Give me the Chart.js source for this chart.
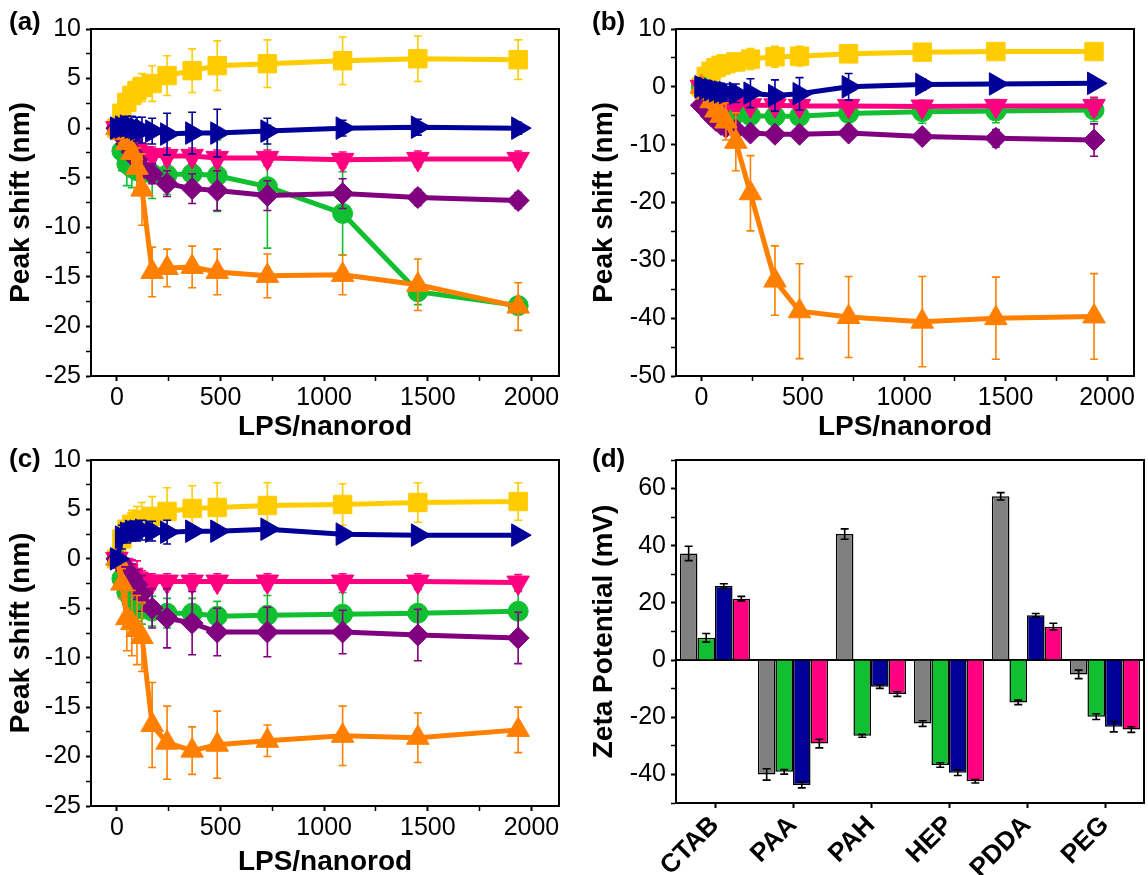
<!DOCTYPE html>
<html>
<head>
<meta charset="utf-8">
<script src="https://cdn.jsdelivr.net/npm/chart.js@4.4.0/dist/chart.umd.min.js"></script>
<style>
  body { margin: 0; background: #fff; }
  #wrap { position: relative; width: 1148px; height: 875px; }
  canvas { position: absolute; }
</style>
</head>
<body>
<div id="wrap">
  <canvas id="chartA" width="574" height="440" style="left:0;top:0"></canvas>
  <canvas id="chartB" width="574" height="440" style="left:574px;top:0"></canvas>
  <canvas id="chartC" width="574" height="435" style="left:0;top:440px"></canvas>
  <canvas id="chartD" width="574" height="435" style="left:574px;top:440px"></canvas>
</div>
<script>
// LPS per nanorod (x values for panels a-c)
const lpsRatio = [0, 24, 48, 72, 97, 121, 170, 242, 363, 484, 726, 1089, 1452, 1936];
const lpsTicks = [0, 500, 1000, 1500, 2000];
const shiftTicksAC = [-25, -20, -15, -10, -5, 0, 5, 10];
const shiftTicksB = [-50, -40, -30, -20, -10, 0, 10];

// panel (a)
const aGold = [0, 1.5, 2.6, 3.3, 3.8, 4.1, 4.5, 5.3, 5.8, 6.3, 6.5, 6.8, 7.0, 6.9];
const aGoldErr = [0.3, 0.8, 1.0, 1.2, 1.3, 1.4, 1.8, 2.0, 2.2, 2.5, 2.4, 2.4, 2.3, 2.0];
const aNavy = [0, 0.1, 0.2, 0.1, -0.1, -0.2, -0.3, -0.6, -0.5, -0.5, -0.3, 0, 0.1, 0];
const aNavyErr = [0.3, 0.8, 1.0, 1.1, 1.2, 1.3, 1.3, 2.1, 2.1, 2.4, 1.3, 0.8, 0.8, 0.6];
const aPink = [0, -0.5, -1.2, -1.8, -2.2, -2.5, -2.7, -2.8, -2.8, -3.0, -3.0, -3.2, -3.1, -3.1];
const aPinkErr = [0.3, 0.6, 0.8, 0.8, 0.8, 0.8, 0.8, 0.8, 0.8, 0.8, 0.8, 0.8, 0.8, 0.8];
const aGreen = [0, -2.3, -3.6, -4.0, -4.3, -4.5, -4.6, -4.7, -4.6, -4.8, -5.9, -8.6, -16.5, -17.9];
const aGreenErr = [0.3, 2.0, 2.2, 2.0, 2.0, 2.3, 2.5, 2.0, 1.5, 3.6, 6.2, 4.2, 1.3, 0.4];
const aPurple = [0, -0.8, -1.6, -2.4, -3.2, -4.0, -4.6, -5.6, -6.1, -6.3, -6.8, -6.6, -7.0, -7.3];
const aPurpleErr = [0.3, 0.8, 1.0, 1.0, 1.0, 1.0, 1.0, 1.3, 1.5, 2.0, 1.5, 1.5, 0.8, 0.8];
const aOrange = [0, -0.5, -1.5, -2.5, -4.0, -6.2, -14.5, -14.1, -14.0, -14.5, -14.9, -14.8, -15.8, -18.0];
const aOrangeErr = [0.3, 1.0, 1.5, 2.0, 2.0, 3.6, 2.5, 1.9, 2.1, 2.3, 2.2, 2.0, 2.6, 2.4];

// panel (b)
const bGold = [0, 1.8, 2.7, 3.3, 3.7, 4.0, 4.3, 4.8, 5.2, 5.3, 5.7, 6.0, 6.1, 6.1];
const bGoldErr = [0.3, 0.8, 1.0, 1.2, 1.3, 1.4, 1.5, 1.8, 1.8, 1.7, 1.5, 1.0, 0.8, 0.5];
const bNavy = [0, -0.3, -0.5, -0.7, -0.9, -1.0, -1.1, -1.1, -1.5, -1.2, 0.0, 0.4, 0.5, 0.6];
const bNavyErr = [0.3, 1.0, 1.2, 1.5, 1.5, 1.5, 1.6, 2.5, 2.7, 2.8, 2.3, 1.0, 0.8, 0.5];
const bPink = [0, -1.0, -1.8, -2.3, -2.6, -2.8, -3.0, -3.2, -3.2, -3.3, -3.3, -3.4, -3.3, -3.3];
const bPinkErr = [0.3, 0.8, 0.8, 0.8, 0.8, 0.8, 0.8, 0.8, 0.8, 0.8, 0.8, 0.8, 0.8, 1.5];
const bGreen = [0, -1.5, -2.5, -3.2, -3.8, -4.3, -4.7, -5.0, -5.1, -5.1, -4.6, -4.3, -4.2, -4.0];
const bGreenErr = [0.3, 1.0, 1.2, 1.5, 1.8, 2.0, 2.0, 2.0, 2.0, 2.0, 2.0, 2.0, 2.0, 2.0];
const bPurple = [-3.2, -4.0, -5.0, -5.8, -6.5, -7.0, -7.4, -8.0, -8.2, -8.2, -8.0, -8.6, -8.9, -9.2];
const bPurpleErr = [0.5, 0.8, 0.8, 0.8, 0.8, 0.8, 0.8, 0.8, 0.8, 0.8, 0.8, 1.0, 1.5, 2.8];
const bOrange = [0, -1.0, -2.5, -4.1, -5.0, -6.0, -9.5, -18.4, -33.5, -38.8, -39.8, -40.6, -40.0, -39.7];
const bOrangeErr = [0.5, 1.0, 1.2, 1.3, 2.0, 3.2, 5.0, 6.5, 6.0, 8.2, 7.0, 7.8, 7.1, 7.4];

// panel (c)
const cGold = [0, 2.0, 3.0, 3.5, 3.8, 4.0, 4.3, 4.8, 5.1, 5.2, 5.4, 5.5, 5.7, 5.8];
const cGoldErr = [0.3, 1.0, 1.2, 1.4, 1.5, 1.7, 2.0, 2.4, 2.3, 2.5, 2.3, 2.1, 2.0, 1.9];
const cNavy = [0, 2.2, 2.6, 2.8, 2.8, 2.9, 2.8, 2.7, 2.8, 2.8, 3.0, 2.5, 2.4, 2.4];
const cNavyErr = [0.5, 1.2, 1.0, 1.0, 1.0, 1.0, 1.0, 1.2, 0.3, 0.3, 0.3, 0.3, 0.3, 0.3];
const cPink = [0, -0.6, -1.2, -1.6, -2.0, -2.2, -2.3, -2.3, -2.3, -2.3, -2.3, -2.3, -2.3, -2.4];
const cPinkErr = [0.3, 0.8, 1.0, 1.5, 1.8, 1.0, 0.8, 0.8, 0.8, 0.8, 0.8, 0.8, 0.8, 0.8];
const cGreen = [0, -2.0, -3.4, -4.3, -4.8, -5.1, -5.3, -5.5, -5.5, -5.8, -5.7, -5.6, -5.5, -5.3];
const cGreenErr = [0.3, 1.0, 1.5, 1.5, 1.5, 1.5, 1.5, 1.5, 1.5, 1.5, 2.0, 2.2, 2.5, 2.0];
const cPurple = [0, -0.5, -1.2, -1.8, -2.6, -3.5, -5.0, -6.0, -6.5, -7.4, -7.4, -7.4, -7.7, -8.0];
const cPurpleErr = [0.3, 0.8, 1.0, 1.3, 1.5, 1.8, 2.0, 3.0, 3.2, 2.4, 2.5, 2.2, 2.6, 2.6];
const cOrange = [0, -2.5, -6.0, -6.5, -7.2, -7.9, -16.8, -18.6, -19.4, -18.8, -18.4, -17.9, -18.1, -17.3];
const cOrangeErr = [0.3, 1.5, 3.3, 3.3, 3.5, 3.5, 4.3, 3.7, 2.4, 3.4, 1.6, 3.0, 2.5, 2.3];

// panel (d) zeta potential
const coatings = ['CTAB', 'PAA', 'PAH', 'HEP', 'PDDA', 'PEG'];
const zetaTicks = [-40, -20, 0, 20, 40, 60];
const zetaGray = [37.3, -40, 44.1, -22.2, 57.3, -5];
const zetaGrayErr = [2.5, 2, 1.8, 1, 1.3, 1.5];
const zetaGreen = [7.8, -39.1, -26.5, -36.7, -14.8, -19.8];
const zetaGreenErr = [1.5, 0.8, 0.5, 0.8, 0.8, 1];
const zetaBlue = [25.9, -43.7, -9.3, -39.4, 15.7, -23.3];
const zetaBlueErr = [0.8, 1, 0.6, 1, 0.6, 1.8];
const zetaPink = [21.5, -29.2, -11.9, -42.4, 11.7, -24.3];
const zetaPinkErr = [0.8, 1.5, 0.8, 0.6, 1.2, 1];

const FONT = "'Liberation Sans', Arial, sans-serif";
const GOLD = '#FFCC00', NAVY = '#000099', PINK = '#FF0080',
      GREEN = '#11C030', PURPLE = '#800080', ORANGE = '#FF8000', GRAY = '#808080';

// majors plus the half-way minor ticks, kept inside [min, max]
function withMinor(major, min, max) {
  const step = major[1] - major[0];
  const out = [];
  major.forEach(v => { out.push(v); out.push(v + step / 2); });
  out.push(major[0] - step / 2);
  return out.filter(v => v >= min - 1e-6 && v <= max + 1e-6).sort((p, q) => p - q);
}

// error bars drawn right after each dataset so they follow its stacking order
const errorBars = {
  id: 'errorBars',
  afterDatasetDraw(chart, args) {
    const ds = chart.data.datasets[args.index];
    if (!ds.err) return;
    const y = chart.scales[args.meta.yAxisID];
    const ctx = chart.ctx;
    ctx.save();
    ctx.strokeStyle = ds.errColor || ds.borderColor;
    ctx.lineWidth = 1.6;
    args.meta.data.forEach((el, i) => {
      const d = ds.data[i];
      const v = typeof d === 'object' ? d.y : d;
      const top = y.getPixelForValue(v + ds.err[i]);
      const bot = y.getPixelForValue(v - ds.err[i]);
      ctx.beginPath();
      ctx.moveTo(el.x, top); ctx.lineTo(el.x, bot);
      ctx.moveTo(el.x - 4, top); ctx.lineTo(el.x + 4, top);
      ctx.moveTo(el.x - 4, bot); ctx.lineTo(el.x + 4, bot);
      ctx.stroke();
    });
    ctx.restore();
  }
};

// box around the plot, optional zero line, panel letter
const frame = {
  id: 'frame',
  beforeDatasetsDraw(chart, args, opts) {
    if (!opts.zeroLine) return;
    const a = chart.chartArea, ctx = chart.ctx;
    const y0 = chart.scales.y.getPixelForValue(0);
    ctx.save();
    ctx.strokeStyle = '#000'; ctx.lineWidth = 2;
    ctx.beginPath(); ctx.moveTo(a.left, y0); ctx.lineTo(a.right, y0); ctx.stroke();
    ctx.restore();
  },
  afterDraw(chart, args, opts) {
    const a = chart.chartArea, ctx = chart.ctx;
    ctx.save();
    ctx.strokeStyle = '#000'; ctx.lineWidth = 2;
    ctx.strokeRect(a.left, a.top, a.right - a.left, a.bottom - a.top);
    ctx.fillStyle = '#000';
    ctx.font = 'bold 26px ' + FONT;
    ctx.textBaseline = 'middle';
    ctx.fillText(opts.label, opts.labelX, opts.labelY);
    ctx.restore();
  }
};

function lineSeries(label, values, errs, color, style, rotation, radius) {
  return {
    label: label,
    data: lpsRatio.map((x, i) => ({ x: x, y: values[i] })),
    err: errs,
    borderColor: color,
    backgroundColor: color,
    borderWidth: 5,
    pointStyle: style,
    pointRotation: rotation,
    pointRadius: radius,
    pointBorderWidth: 1,
    tension: 0
  };
}

function axisStyle(major) {
  return {
    grid: {
      drawOnChartArea: false, drawTicks: true, tickLength: 5, tickColor: '#000',
      tickWidth: c => (major.includes(c.tick && c.tick.value) ? 2 : 1.5)
    },
    border: { display: true, color: '#000', width: 2 }
  };
}

function peakChart(id, letter, labelX, labelY, yMajor, yMin, yMax, yWidth, yTitlePad, xHeight, pad, sets) {
  const xMin = -125, xMax = 2133;
  new Chart(document.getElementById(id), {
    type: 'line',
    data: { datasets: sets },
    options: {
      responsive: false, animation: false, devicePixelRatio: 1,
      layout: { padding: pad },
      plugins: {
        legend: { display: false }, tooltip: { enabled: false },
        frame: { label: letter, labelX: labelX, labelY: labelY }
      },
      scales: {
        x: Object.assign(axisStyle(lpsTicks), {
          type: 'linear', min: xMin, max: xMax,
          afterBuildTicks: s => { s.ticks = withMinor(lpsTicks, xMin, xMax).map(v => ({ value: v })); },
          afterFit: s => { s.height = xHeight; },
          ticks: {
            autoSkip: false, maxRotation: 0, padding: 2, color: '#000',
            font: { family: FONT, size: 25 },
            callback: v => (lpsTicks.includes(v) ? String(v) : '')
          },
          title: {
            display: true, text: 'LPS/nanorod', color: '#000',
            font: { family: FONT, size: 28, weight: 'bold', lineHeight: 1 },
            padding: { top: 0, bottom: -1 }
          }
        }),
        y: Object.assign(axisStyle(yMajor), {
          type: 'linear', min: yMin, max: yMax,
          afterBuildTicks: s => { s.ticks = withMinor(yMajor, yMin, yMax).map(v => ({ value: v })); },
          afterFit: s => { s.width = yWidth; },
          ticks: {
            autoSkip: false, padding: 5, color: '#000',
            font: { family: FONT, size: 25 },
            callback: v => (yMajor.includes(v) ? String(v) : '')
          },
          title: {
            display: true, text: 'Peak shift (nm)', color: '#000',
            font: { family: FONT, size: 28, weight: 'bold', lineHeight: 1 },
            padding: { top: yTitlePad, bottom: 0 }
          }
        })
      }
    },
    plugins: [errorBars, frame]
  });
}

// first dataset is drawn on top
function seriesSet(gold, goldErr, navy, navyErr, pink, pinkErr, green, greenErr, purple, purpleErr, orange, orangeErr) {
  return [
    lineSeries('navy', navy, navyErr, NAVY, 'triangle', 90, 13),
    lineSeries('orange', orange, orangeErr, ORANGE, 'triangle', 0, 13),
    lineSeries('purple', purple, purpleErr, PURPLE, 'rectRot', 0, 11),
    lineSeries('pink', pink, pinkErr, PINK, 'triangle', 180, 13),
    lineSeries('green', green, greenErr, GREEN, 'circle', 0, 10),
    lineSeries('gold', gold, goldErr, GOLD, 'rect', 0, 13)
  ];
}

peakChart('chartA', '(a)', 9, 23, shiftTicksAC, -25, 10, 91, 7, 64,
  { top: 29, right: 15, left: 0, bottom: 0 },
  seriesSet(aGold, aGoldErr, aNavy, aNavyErr, aPink, aPinkErr, aGreen, aGreenErr, aPurple, aPurpleErr, aOrange, aOrangeErr));

peakChart('chartB', '(b)', 18, 23, shiftTicksB, -50, 10, 102, 16, 64,
  { top: 29, right: 4, left: 0, bottom: 0 },
  seriesSet(bGold, bGoldErr, bNavy, bNavyErr, bPink, bPinkErr, bGreen, bGreenErr, bPurple, bPurpleErr, bOrange, bOrangeErr));

peakChart('chartC', '(c)', 9, 20, shiftTicksAC, -25, 10, 91, 7, 69,
  { top: 20, right: 15, left: 0, bottom: 0 },
  seriesSet(cGold, cGoldErr, cNavy, cNavyErr, cPink, cPinkErr, cGreen, cGreenErr, cPurple, cPurpleErr, cOrange, cOrangeErr));

// panel (d): zeta potential bars
function barSeries(label, values, errs, color) {
  return {
    label: label, data: values, err: errs, errColor: '#000',
    backgroundColor: color, borderColor: '#000', borderWidth: 1.5,
    barPercentage: 1, categoryPercentage: 0.9
  };
}

new Chart(document.getElementById('chartD'), {
  type: 'bar',
  data: {
    labels: coatings,
    datasets: [
      barSeries('gray', zetaGray, zetaGrayErr, GRAY),
      barSeries('green', zetaGreen, zetaGreenErr, GREEN),
      barSeries('blue', zetaBlue, zetaBlueErr, NAVY),
      barSeries('pink', zetaPink, zetaPinkErr, PINK)
    ]
  },
  options: {
    responsive: false, animation: false, devicePixelRatio: 1,
    layout: { padding: { top: 20, right: 4, left: 0, bottom: 0 } },
    plugins: {
      legend: { display: false }, tooltip: { enabled: false },
      frame: { label: '(d)', labelX: 18, labelY: 20, zeroLine: true }
    },
    scales: {
      x: {
        type: 'category', offset: true,
        grid: { offset: false, drawOnChartArea: false, drawTicks: true, tickLength: 5, tickColor: '#000', tickWidth: 2 },
        border: { display: true, color: '#000', width: 2 },
        afterFit: s => { s.height = 72; },
        ticks: {
          minRotation: 45, maxRotation: 45, padding: 2, color: '#000',
          font: { family: FONT, size: 26, weight: 'bold' }
        }
      },
      y: Object.assign(axisStyle(zetaTicks), {
        type: 'linear', min: -50, max: 70,
        afterBuildTicks: s => { s.ticks = withMinor(zetaTicks, -50, 70).map(v => ({ value: v })); },
        afterFit: s => { s.width = 102; },
        ticks: {
          autoSkip: false, padding: 5, color: '#000',
          font: { family: FONT, size: 25 },
          callback: v => (zetaTicks.includes(v) ? String(v) : '')
        },
        title: {
          display: true, text: 'Zeta Potential (mV)', color: '#000',
          font: { family: FONT, size: 28, weight: 'bold', lineHeight: 1 },
          padding: { top: 16, bottom: 0 }
        }
      })
    }
  },
  plugins: [errorBars, frame]
});
</script>
</body>
</html>
